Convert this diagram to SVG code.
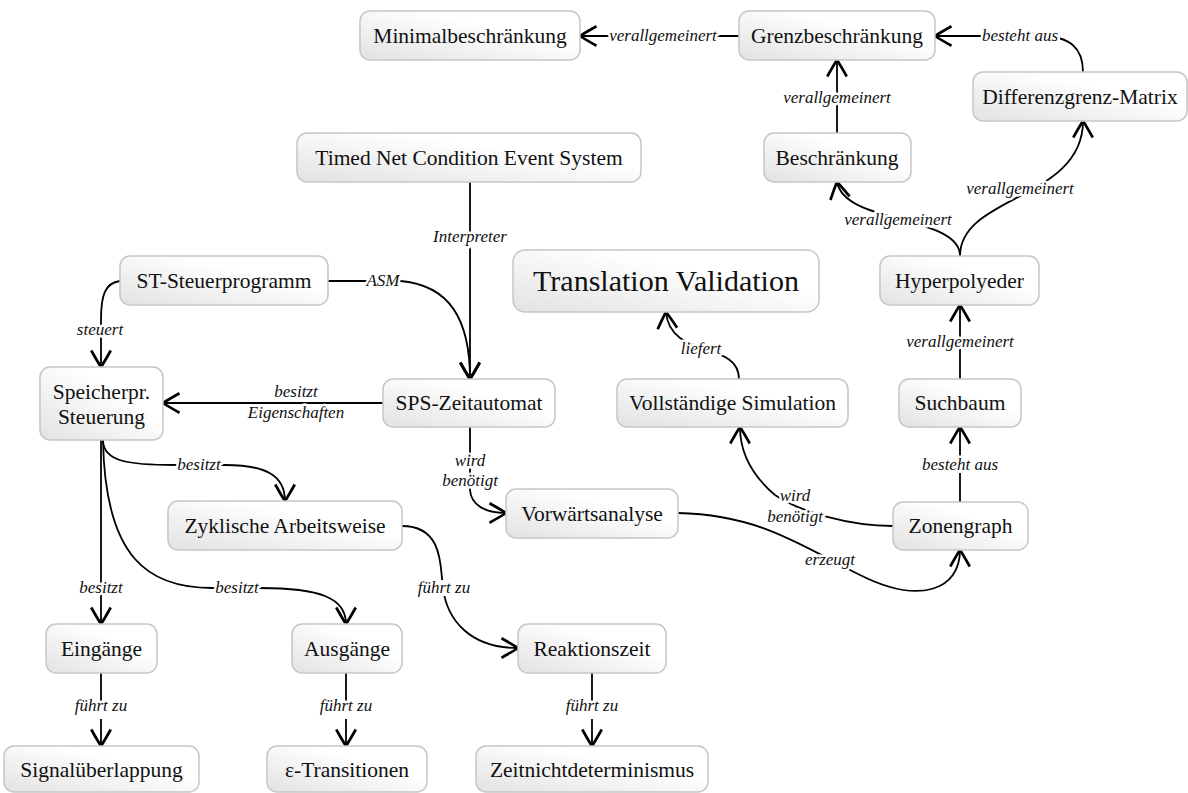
<svg xmlns="http://www.w3.org/2000/svg" width="1188" height="793" viewBox="0 0 1188 793">
<defs>
<linearGradient id="g" x1="1" y1="0" x2="0" y2="1">
<stop offset="0.35" stop-color="#ffffff"/>
<stop offset="1" stop-color="#e2e2e2"/>
</linearGradient>
<marker id="arr" markerUnits="userSpaceOnUse" markerWidth="30" markerHeight="30" viewBox="-15 -10 20 20" refX="0" refY="0" orient="auto">
<path d="M-11,-6.5 Q-3,-2 0,0 Q-3,2 -11,6.5" fill="none" stroke="#000" stroke-width="1.8"/>
</marker>
</defs>
<style>
.n rect{fill:url(#g);stroke:#c6c6c6;stroke-width:1.5}
.n text{font-size:21.5px;fill:#111;text-anchor:middle}
.e path{fill:none;stroke:#000;stroke-width:1.8;marker-end:url(#arr)}
.l rect{fill:#fff}
.l text{font-style:italic;font-size:17px;fill:#111;text-anchor:middle;stroke:#fff;stroke-width:5;paint-order:stroke;stroke-linejoin:round}
</style>
<rect width="1188" height="793" fill="#fff"/>
<g id="edges" class="e">
<path d="M739,36 L580,36"/>
<path d="M1083,72 C1083,48 1070,36 1040,36 L935,36"/>
<path d="M837,133 L837,60"/>
<path d="M960,256 C960,215 845,225 837,182"/>
<path d="M960,256 C960,195 1083,200 1083,121"/>
<path d="M470,182 L470,379"/>
<path d="M328,281 L400,281 C450,285 470,320 470,379"/>
<path d="M120,281 C105,283 101,295 101,320 L101,367"/>
<path d="M383,403 L163,403"/>
<path d="M739,379 C739,340 670,360 666,312"/>
<path d="M960,379 L960,305"/>
<path d="M960,502 L960,427"/>
<path d="M470,427 L470,490 C471,505 485,513 506,513"/>
<path d="M893,526 C850,526 800,512 775,495 C755,478 740,455 740,427"/>
<path d="M678,513 C760,515 800,545 860,575 C920,605 960,590 960,550"/>
<path d="M103,440 C103,462 130,465 175,465 L225,465 C265,465 285,475 285,501"/>
<path d="M101,440 L101,624"/>
<path d="M103,440 C105,560 150,588 212,588 L260,588 C320,588 346,598 346,624"/>
<path d="M402,526 C445,526 440,570 443,588 C447,620 470,648 518,648"/>
<path d="M101,673 L101,746"/>
<path d="M346,673 L346,746"/>
<path d="M592,673 L592,746"/>
</g>
<g id="labels" class="l" font-family="'Liberation Serif', 'Times New Roman', Tinos, 'DejaVu Serif', serif">
<rect x="982" y="28" width="78" height="16"/>
<rect x="922" y="457" width="76" height="16"/>
<rect x="415" y="580" width="58" height="16"/>
<rect x="72" y="703" width="58" height="16"/>
<rect x="317" y="703" width="58" height="16"/>
<rect x="563" y="703" width="58" height="16"/>
<text x="663" y="41">verallgemeinert</text>
<text x="1020" y="41">besteht aus</text>
<text x="837" y="103">verallgemeinert</text>
<text x="898" y="225">verallgemeinert</text>
<text x="1020" y="194">verallgemeinert</text>
<text x="470" y="242">Interpreter</text>
<text x="383" y="286">ASM</text>
<text x="100" y="335">steuert</text>
<text x="296" y="397">besitzt</text>
<text x="296" y="418">Eigenschaften</text>
<text x="701" y="354">liefert</text>
<text x="960" y="347">verallgemeinert</text>
<text x="960" y="470">besteht aus</text>
<text x="470" y="466">wird</text>
<text x="470" y="486">benötigt</text>
<text x="795" y="501">wird</text>
<text x="795" y="522">benötigt</text>
<text x="830" y="565">erzeugt</text>
<text x="199" y="470">besitzt</text>
<text x="101" y="593">besitzt</text>
<text x="237" y="593">besitzt</text>
<text x="444" y="593">führt zu</text>
<text x="101" y="711">führt zu</text>
<text x="346" y="711">führt zu</text>
<text x="592" y="711">führt zu</text>
</g>
<g font-family="'Liberation Serif', 'Times New Roman', Tinos, 'DejaVu Serif', serif">
<g id="n1" class="n"><rect x="360" y="11" width="220" height="49" rx="10"/><text x="470" y="43">Minimalbeschränkung</text></g>
<g id="n2" class="n"><rect x="739" y="11" width="196" height="49" rx="10"/><text x="837" y="43">Grenzbeschränkung</text></g>
<g id="n3" class="n"><rect x="973" y="72" width="214" height="49" rx="10"/><text x="1080" y="104">Differenzgrenz-Matrix</text></g>
<g id="n4" class="n"><rect x="764" y="133" width="147" height="49" rx="10"/><text x="837" y="165">Beschränkung</text></g>
<g id="n5" class="n"><rect x="297" y="133" width="344" height="49" rx="10"/><text x="469" y="165">Timed Net Condition Event System</text></g>
<g id="n6" class="n"><rect x="120" y="256" width="208" height="49" rx="10"/><text x="224" y="288">ST-Steuerprogramm</text></g>
<g id="n7" class="n"><rect x="513" y="250" width="306" height="62" rx="12"/><text x="666" y="291" style="font-size:30px">Translation Validation</text></g>
<g id="n8" class="n"><rect x="880" y="256" width="159" height="49" rx="10"/><text x="959.5" y="288">Hyperpolyeder</text></g>
<g id="n9" class="n"><rect x="40" y="367" width="123" height="73" rx="10"/><text x="101.5" y="399">Speicherpr.</text><text x="101.5" y="424">Steuerung</text></g>
<g id="n10" class="n"><rect x="383" y="379" width="172" height="48" rx="10"/><text x="469" y="410">SPS-Zeitautomat</text></g>
<g id="n11" class="n"><rect x="617" y="379" width="231" height="48" rx="10"/><text x="732.5" y="410">Vollständige Simulation</text></g>
<g id="n12" class="n"><rect x="899" y="379" width="122" height="48" rx="10"/><text x="960" y="410">Suchbaum</text></g>
<g id="n13" class="n"><rect x="506" y="489" width="172" height="49" rx="10"/><text x="592" y="521">Vorwärtsanalyse</text></g>
<g id="n14" class="n"><rect x="168" y="501" width="234" height="49" rx="10"/><text x="285" y="533">Zyklische Arbeitsweise</text></g>
<g id="n15" class="n"><rect x="893" y="502" width="135" height="48" rx="10"/><text x="960.5" y="533">Zonengraph</text></g>
<g id="n16" class="n"><rect x="46" y="624" width="111" height="49" rx="10"/><text x="101.5" y="656">Eingänge</text></g>
<g id="n17" class="n"><rect x="292" y="624" width="110" height="49" rx="10"/><text x="347" y="656">Ausgänge</text></g>
<g id="n18" class="n"><rect x="518" y="624" width="148" height="49" rx="10"/><text x="592" y="656">Reaktionszeit</text></g>
<g id="n19" class="n"><rect x="4" y="746" width="195" height="46" rx="10"/><text x="101.5" y="777">Signalüberlappung</text></g>
<g id="n20" class="n"><rect x="267" y="746" width="160" height="46" rx="10"/><text x="347" y="777">ε-Transitionen</text></g>
<g id="n21" class="n"><rect x="476" y="746" width="232" height="46" rx="10"/><text x="592" y="777">Zeitnichtdeterminismus</text></g>
</g>
</svg>
